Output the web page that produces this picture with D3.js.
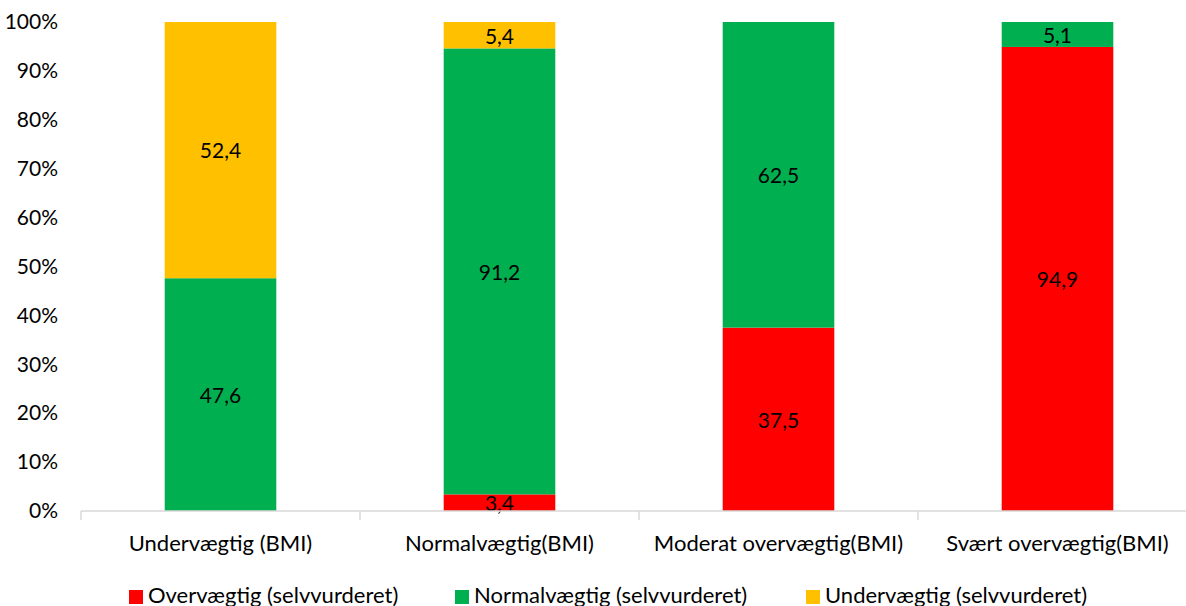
<!DOCTYPE html>
<html>
<head>
<meta charset="utf-8">
<script src="https://cdn.jsdelivr.net/npm/d3@7"></script>
<style>
  html, body { margin: 0; padding: 0; background: #fff; }
  svg { display: block; }
  text { font-family: Lato, "Open Sans", sans-serif; fill: #000; }
</style>
</head>
<body>
<svg id="chart" width="1186" height="606"></svg>
<script>
// BMI group on the x axis
const categories = ["Undervægtig (BMI)", "Normalvægtig(BMI)", "Moderat overvægtig(BMI)", "Svært overvægtig(BMI)"];
// Self-assessed weight status, percent of each BMI group
const overvaegtig = [0, 3.4, 37.5, 94.9];
const normalvaegtig = [47.6, 91.2, 62.5, 5.1];
const undervaegtig = [52.4, 5.4, 0, 0];
const seriesNames = ["Overvægtig (selvvurderet)", "Normalvægtig (selvvurderet)", "Undervægtig (selvvurderet)"];
const yTicks = [0, 10, 20, 30, 40, 50, 60, 70, 80, 90, 100];

const colors = ["#FF0000", "#00B050", "#FFC000"];
const seriesValues = [overvaegtig, normalvaegtig, undervaegtig];

const rows = categories.map((c, i) => {
  const r = { cat: c };
  seriesNames.forEach((s, k) => r[s] = seriesValues[k][i]);
  return r;
});

const svg = d3.select("#chart");
const plotLeft = 81, plotRight = 1197, plotTop = 22, plotBottom = 511;

const x = d3.scaleBand().domain(categories).range([plotLeft, plotRight])
  .paddingInner(0.6).paddingOuter(0.3);
const y = d3.scaleLinear().domain([0, 100]).range([plotBottom, plotTop]);

const stacked = d3.stack().keys(seriesNames)(rows);

// stacked bars
const layers = svg.append("g").selectAll("g").data(stacked).join("g")
  .attr("fill", (d, i) => colors[i]);
layers.selectAll("rect").data(d => d).join("rect")
  .attr("x", d => x(d.data.cat))
  .attr("width", x.bandwidth())
  .attr("y", d => y(d[1]))
  .attr("height", d => y(d[0]) - y(d[1]));

// value labels (zero segments get none)
const fmt = v => d3.format(".1f")(v).replace(".", ",");
layers.selectAll("text")
  .data(d => d.map(p => ({ p, key: d.key })).filter(e => e.p.data[e.key] > 0))
  .join("text")
  .attr("x", d => x(d.p.data.cat) + x.bandwidth() / 2)
  .attr("y", d => (y(d.p[0]) + y(d.p[1])) / 2 + 1)
  .attr("dy", "0.35em")
  .attr("text-anchor", "middle")
  .attr("font-size", 21)
  .attr("fill", "#000")
  .text(d => fmt(d.p.data[d.key]));

// y axis labels (no axis line)
const yAxis = svg.append("g").attr("transform", `translate(${plotLeft},0)`)
  .call(d3.axisLeft(y).tickValues(yTicks).tickFormat(d => d + "%").tickSize(0).tickPadding(23));
yAxis.select(".domain").remove();
yAxis.selectAll("text").attr("font-size", 21).attr("font-family", "Lato, 'Open Sans', sans-serif").attr("fill", "#000");

// x axis: baseline with separators between categories
const xg = svg.append("g");
xg.append("line").attr("x1", plotLeft).attr("x2", plotRight).attr("y1", plotBottom).attr("y2", plotBottom)
  .attr("stroke", "#D9D9D9").attr("stroke-width", 1.5);
const seps = categories.map(c => x(c) - x.step() * x.paddingInner() / 2).concat([plotRight]);
seps[0] = plotLeft;
xg.selectAll("line.sep").data(seps)
  .join("line").attr("class", "sep")
  .attr("x1", d => d).attr("x2", d => d).attr("y1", plotBottom).attr("y2", plotBottom + 9)
  .attr("stroke", "#D9D9D9").attr("stroke-width", 1.5);
xg.selectAll("text").data(categories).join("text")
  .attr("x", d => x(d) + x.bandwidth() / 2)
  .attr("y", 551)
  .attr("text-anchor", "middle").attr("font-size", 22)
  .text(d => d);

// legend
const legendX = [129, 455, 806];
const lg = svg.append("g").selectAll("g").data(seriesNames).join("g")
  .attr("transform", (d, i) => `translate(${legendX[i]},590)`);
lg.append("rect").attr("width", 14).attr("height", 14).attr("fill", (d, i) => colors[i]);
lg.append("text").attr("x", 19).attr("y", 13)
  .attr("font-size", 22).text(d => d);
</script>
</body>
</html>
